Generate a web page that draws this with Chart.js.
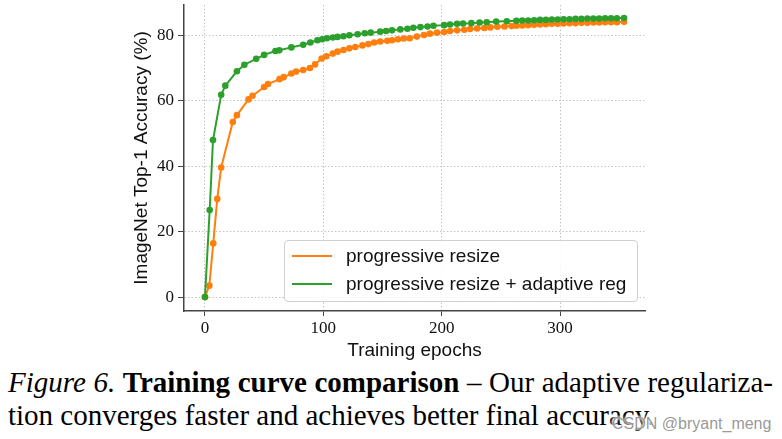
<!DOCTYPE html>
<html>
<head>
<meta charset="utf-8">
<script src="https://cdn.jsdelivr.net/npm/chart.js@4.4.0/dist/chart.umd.min.js"></script>
<style>
  body { margin: 0; background: #fff; }
  #wrap { position: relative; width: 782px; height: 439px; overflow: hidden; }
  #legend { position: absolute; left: 284px; top: 240px; width: 352px; height: 60px;
            border: 1px solid #d0d0d0; border-radius: 4px; background: rgba(255,255,255,0.85);
            font-family: "Liberation Sans", Arial, sans-serif; font-size: 19px; color: #111; }
  .item { position: absolute; left: 7px; height: 22px; }
  .item span.ln { position: absolute; left: 0; top: 10px; width: 40px; height: 2px; }
  .item span.tx { position: absolute; left: 54px; top: 0; white-space: nowrap; line-height: 22px; }
  .cap { position: absolute; left: 8px; width: 765px; font-family: "Liberation Serif", "Times New Roman", serif;
         font-size: 29px; line-height: 33px; color: #000; white-space: nowrap; }
  #cap1 { top: 366px; text-align: justify; text-align-last: justify; white-space: normal; }
  #cap2 { top: 399px; }
  #wm { position: absolute; left: 612px; top: 415px; font-family: "Liberation Sans", Arial, sans-serif;
        font-size: 16px; color: rgba(140,140,140,0.9);
        text-shadow: 0 0 2px #fff, 0 0 3px #fff, 0 0 4px #fff; white-space: nowrap; }
</style>
</head>
<body>
<div id="wrap">
  <canvas id="mycanvas" width="782" height="362"></canvas>
  <div id="legend">
    <div class="item" style="top:4px"><span class="ln" style="background:#ff7f0e"></span><span class="tx">progressive resize</span></div>
    <div class="item" style="top:32px"><span class="ln" style="background:#2ca02c"></span><span class="tx">progressive resize + adaptive reg</span></div>
  </div>
  <div class="cap" id="cap1"><i>Figure 6.</i> <b>Training curve comparison</b> &ndash; Our adaptive regulariza-</div>
  <div class="cap" id="cap2">tion converges faster and achieves better final accuracy.</div>
  <div id="wm">CSDN @bryant_meng</div>
</div>
<script>
// progressive resize (orange)
var resizeEpochs = [0, 3.7, 7, 10.4, 13.7, 23.5, 27, 36.8, 40.2, 50, 53.3, 63, 66.5, 73, 77, 83, 88.7, 93, 98.6, 102.5,
  108, 112, 117, 122, 127, 133, 138, 143, 148, 154, 158, 163, 168, 173, 179, 185, 190, 196, 202, 207,
  213, 219, 224, 230, 236, 241, 247, 253, 259, 263, 268, 273, 278, 283, 288, 293, 298, 303, 308, 313,
  318, 323, 328, 333, 338, 343, 348, 354];
var resizeAcc = [0, 3.5, 16.4, 30, 39.6, 53.5, 55.6, 60.4, 61.5, 64.2, 65.1, 66.6, 67.2, 68.3, 68.9, 69.4, 70, 71.1, 72.9, 73.6,
  74.4, 75, 75.5, 76, 76.4, 76.9, 77.3, 77.8, 78.1, 78.3, 78.5, 78.8, 79, 79.1, 79.6, 80.1, 80.5, 80.8, 81, 81.3,
  81.5, 81.7, 81.9, 82.1, 82.2, 82.4, 82.6, 82.7, 82.8, 82.9, 83, 83.1, 83.2, 83.3, 83.4, 83.5, 83.5, 83.6, 83.7, 83.7,
  83.8, 83.8, 83.9, 83.9, 84, 84, 84, 84.1];

// progressive resize + adaptive reg (green)
var adaptEpochs = [0, 4, 6.8, 13.7, 17.2, 27, 33.3, 43.3, 50, 59.5, 62.8, 73, 83, 89, 95, 99, 103, 108, 112, 117,
  122, 129, 135, 140, 148, 153, 158, 165, 171, 176, 182, 188, 193, 202, 207, 213, 218, 225, 232, 238,
  246, 255, 263, 268, 273, 278, 283, 288, 293, 298, 303, 308, 313, 318, 323, 328, 333, 338, 343, 348, 354];
var adaptAcc = [0, 26.6, 48, 61.8, 64.6, 69, 71, 72.8, 74, 75.2, 75.4, 76.3, 77.1, 77.8, 78.5, 78.8, 79.1, 79.3, 79.5, 79.7,
  80, 80.3, 80.6, 80.8, 81.1, 81.3, 81.5, 81.8, 82, 82.3, 82.5, 82.7, 82.9, 83.1, 83.3, 83.5, 83.6, 83.7, 83.9, 84,
  84.2, 84.3, 84.4, 84.5, 84.5, 84.6, 84.7, 84.7, 84.8, 84.8, 84.9, 84.9, 85, 85, 85.1, 85.1, 85.1, 85.2, 85.2, 85.2, 85.3];

var xTicks = [0, 100, 200, 300];
var yTicks = [0, 20, 40, 60, 80];

function toPoints(xs, ys) {
    var pts = [];
    for (var i = 0; i < xs.length; i++) {
        pts.push({x: xs[i], y: ys[i]});
    }
    return pts;
}

var tickFont = {family: "'Liberation Serif', 'Times New Roman', serif", size: 17};
var titleFont = {family: "'Liberation Sans', Arial, sans-serif", size: 19};

var ctx = document.getElementById("mycanvas");
var chart = new Chart(ctx, {
    type: "line",
    data: {
        datasets: [
            {
                label: "progressive resize",
                data: toPoints(resizeEpochs, resizeAcc),
                borderColor: "#ff7f0e",
                backgroundColor: "#ff7f0e",
                borderWidth: 2,
                pointRadius: 3.3,
                pointBorderWidth: 0,
                order: 1
            },
            {
                label: "progressive resize + adaptive reg",
                data: toPoints(adaptEpochs, adaptAcc),
                borderColor: "#2ca02c",
                backgroundColor: "#2ca02c",
                borderWidth: 2,
                pointRadius: 3.3,
                pointBorderWidth: 0,
                order: 0
            }
        ]
    },
    options: {
        responsive: false,
        animation: false,
        layout: {autoPadding: false, padding: {left: 128, right: 137, top: 5, bottom: 0}},
        plugins: {legend: {display: false}, tooltip: {enabled: false}},
        scales: {
            x: {
                type: "linear",
                min: -17.7,
                max: 371.7,
                afterBuildTicks: function(scale) {
                    scale.ticks = xTicks.map(function(v){ return {value: v}; });
                },
                afterFit: function(scale) {
                    scale.height = 51;
                    scale.paddingLeft = 0;
                    scale.paddingRight = 0;
                },
                grid: {color: "#c4c4c4", lineWidth: 1, tickLength: 5, tickColor: "#444", tickWidth: 1},
                border: {display: true, color: "#444", width: 1.5, dash: [1.5, 2]},
                ticks: {font: tickFont, color: "#111", padding: 2, maxRotation: 0},
                title: {display: true, text: "Training epochs", font: titleFont, color: "#111", padding: {top: 0, bottom: 0}}
            },
            y: {
                type: "linear",
                min: -4.25,
                max: 89.25,
                afterBuildTicks: function(scale) {
                    scale.ticks = yTicks.map(function(v){ return {value: v}; });
                },
                afterFit: function(scale) {
                    scale.width = 56;
                    scale.paddingTop = 0;
                    scale.paddingBottom = 0;
                },
                grid: {color: "#c4c4c4", lineWidth: 1, tickLength: 6, tickColor: "#444", tickWidth: 1},
                border: {display: true, color: "#444", width: 1.5, dash: [1.5, 2]},
                ticks: {font: tickFont, color: "#111", padding: 4},
                title: {display: true, text: "ImageNet Top-1 Accuracy (%)", font: titleFont, color: "#111", padding: {top: 2, bottom: 2}}
            }
        }
    }
});
</script>
</body>
</html>
